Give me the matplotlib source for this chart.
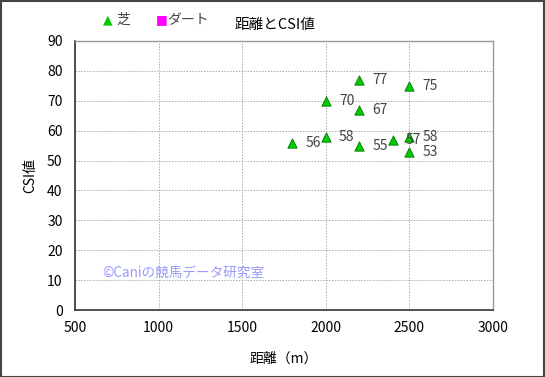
import matplotlib
matplotlib.use("Agg")
import matplotlib.pyplot as plt
from matplotlib.patches import Rectangle

plt.rcParams['font.family'] = ['Noto Sans CJK JP', 'DejaVu Sans']

turf_dist = [1800, 2000, 2000, 2200, 2200, 2200, 2400, 2500, 2500, 2500]
turf_csi = [56, 58, 70, 77, 67, 55, 57, 75, 58, 53]
dirt_dist = []
dirt_csi = []

xticks = [500, 1000, 1500, 2000, 2500, 3000]
yticks = [0, 10, 20, 30, 40, 50, 60, 70, 80, 90]

fig = plt.figure(figsize=(5.45, 3.77), dpi=100)
ax = fig.add_axes([75/545, 1 - 310/377, (493-75)/545, (310-41)/377])

ax.scatter(turf_dist, turf_csi, marker='^', s=45, color='#00cc00', edgecolors='#007700', linewidths=0.6, zorder=3)
ax.scatter(dirt_dist, dirt_csi, marker='s', s=40, color='#ff00ff', zorder=3)
for x, y in zip(turf_dist, turf_csi):
    ax.annotate(str(y), (x, y), xytext=(9.5, 0), textcoords='offset points',
                fontsize=10, color='#444444', va='center', ha='left', zorder=4)

ax.set_xlim(500, 3000)
ax.set_ylim(0, 90)
ax.set_xticks(xticks)
ax.set_yticks(yticks)
ax.tick_params(length=0, labelsize=10, pad=8)
ax.tick_params(axis='y', pad=9)
ax.grid(True, color='#aaaaaa', linestyle=(0, (1.5, 1.5)), linewidth=0.7)
ax.set_axisbelow(True)
for side in ['top', 'right']:
    ax.spines[side].set_color('#999999')
    ax.spines[side].set_linewidth(1.0)
for side in ['left', 'bottom']:
    ax.spines[side].set_color('#333333')
    ax.spines[side].set_linewidth(1.2)

ax.set_xlabel('距離（m）', fontsize=10, labelpad=12)
ax.set_ylabel('CSI値', fontsize=10, labelpad=7)

ax.text(660, 12.5, '©Caniの競馬データ研究室', color='#9999ff', fontsize=9.8, va='center', ha='left')

fig.text(275/545, 1 - 25/377, '距離とCSI値', fontsize=10.5, ha='center', va='center')
# legend
fig.text(108/545, 1 - 20/377, '▲', color='#00cc00', fontsize=9, ha='center', va='center', family=['DejaVu Sans'])
fig.text(116/545, 1 - 20/377, '芝', color='#444444', fontsize=10, ha='left', va='center')
fig.text(162/545, 1 - 20/377, '■', color='#ff00ff', fontsize=9, ha='center', va='center', family=['DejaVu Sans'])
fig.text(167/545, 1 - 20/377, 'ダート', color='#444444', fontsize=10, ha='left', va='center')

fig.patches.append(Rectangle((0.001, 0.001), 0.997, 0.996, transform=fig.transFigure,
                             fill=False, edgecolor='#444444', linewidth=1.5))

fig.savefig('out.png', dpi=100)
